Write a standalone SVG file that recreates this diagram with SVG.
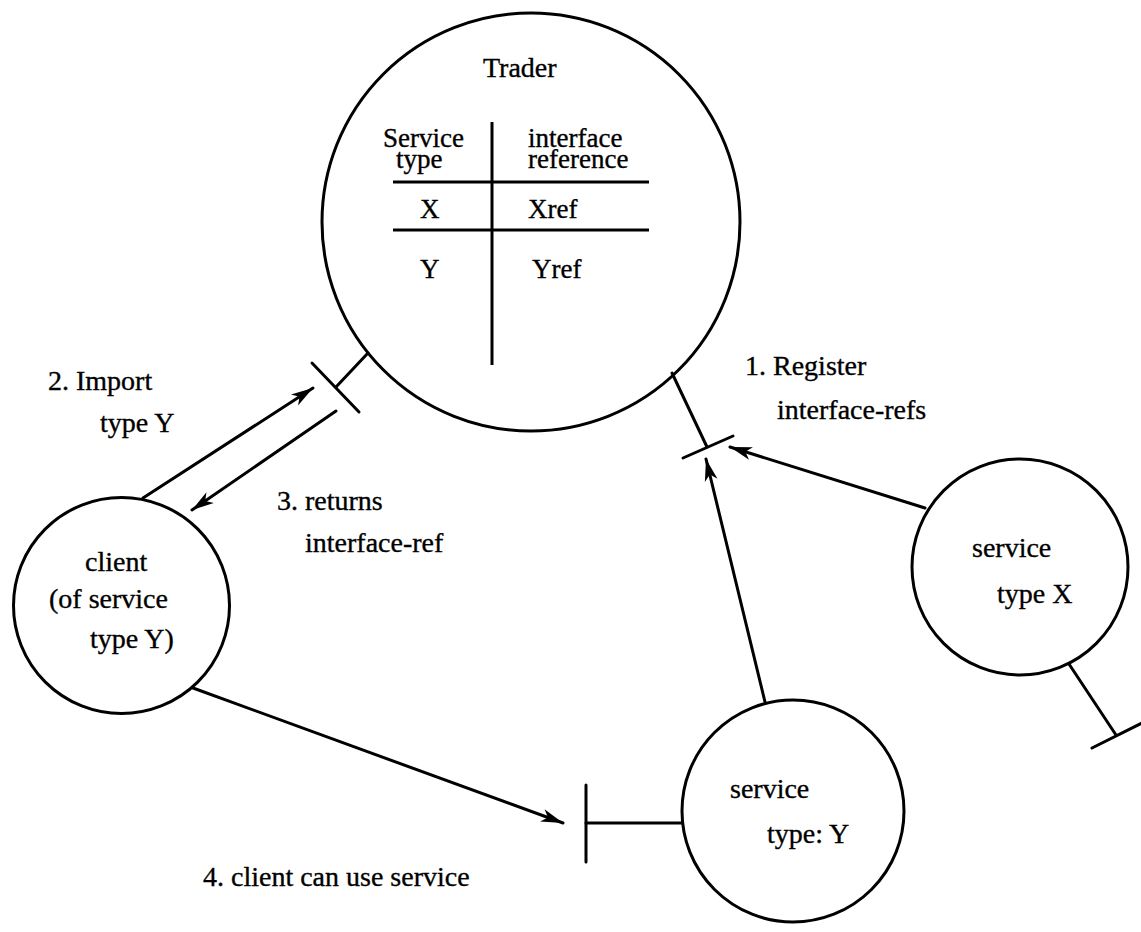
<svg xmlns="http://www.w3.org/2000/svg" width="1141" height="932" viewBox="0 0 1141 932">
  <style>
    .node { fill: none; stroke: #000; stroke-width: 3; }
    .edge { fill: none; stroke: #000; stroke-width: 3; stroke-linecap: round; }
    .rule { fill: none; stroke: #000; stroke-width: 3; }
    text { font-family: "Liberation Serif", "Times New Roman", serif; font-size: 28px; fill: #000; stroke: #000; stroke-width: 0.35; }
    .tbl { font-size: 27px; }
  </style>
  <defs>
    <marker id="arrow" markerUnits="userSpaceOnUse" markerWidth="24" markerHeight="16" refX="22" refY="8" orient="auto">
      <path d="M0,1.5 L22,8 L0,14.5 L6,8 z" fill="#000"/>
    </marker>
  </defs>
  <rect width="1141" height="932" fill="#fff"/>

  <!-- Trader with its lookup table -->
  <g id="trader">
    <circle class="node" cx="531" cy="222" r="209"/>
    <text x="483" y="77">Trader</text>
    <line class="rule" x1="492" y1="122" x2="492" y2="365"/>
    <line class="rule" x1="393" y1="182" x2="649" y2="182"/>
    <line class="rule" x1="393" y1="230" x2="649" y2="230"/>
    <text class="tbl" x="383" y="147">Service</text>
    <text class="tbl" x="396" y="168">type</text>
    <text class="tbl" x="528" y="147">interface</text>
    <text class="tbl" x="528" y="168">reference</text>
    <text class="tbl" x="420" y="218">X</text>
    <text class="tbl" x="528" y="218">Xref</text>
    <text class="tbl" x="420" y="278">Y</text>
    <text class="tbl" x="532" y="278">Yref</text>
  </g>

  <!-- client -->
  <g id="client">
    <circle class="node" cx="121.5" cy="605.5" r="108"/>
    <text x="85" y="571">client</text>
    <text x="49" y="608">(of service</text>
    <text x="90" y="648">type Y)</text>
  </g>

  <!-- service of type X -->
  <g id="service-x">
    <circle class="node" cx="1020" cy="567" r="108"/>
    <text x="972" y="557">service</text>
    <text x="997" y="603">type X</text>
  </g>

  <!-- service of type Y -->
  <g id="service-y">
    <circle class="node" cx="793" cy="811" r="111"/>
    <text x="730" y="798">service</text>
    <text x="767" y="843">type: Y</text>
  </g>

  <!-- interface stubs and message arrows -->
  <g id="connectors">
    <!-- trader import interface -->
    <line class="edge" x1="368" y1="353" x2="336" y2="387"/>
    <line class="edge" x1="312" y1="363" x2="359" y2="412"/>
    <!-- trader register interface -->
    <line class="edge" x1="672" y1="373" x2="707" y2="447"/>
    <line class="edge" x1="683" y1="458" x2="733" y2="436"/>
    <!-- service X interface -->
    <line class="edge" x1="1069" y1="664" x2="1116" y2="735"/>
    <line class="edge" x1="1092" y1="748" x2="1150" y2="719"/>
    <!-- service Y interface -->
    <line class="edge" x1="682" y1="823" x2="586" y2="823"/>
    <line class="edge" x1="586" y1="785" x2="586" y2="862"/>

    <line class="edge" x1="143" y1="498" x2="313" y2="388" marker-end="url(#arrow)"/>
    <line class="edge" x1="336" y1="411" x2="192" y2="510" marker-end="url(#arrow)"/>
    <line class="edge" x1="925" y1="508" x2="730" y2="447" marker-end="url(#arrow)"/>
    <line class="edge" x1="765" y1="702" x2="706" y2="459" marker-end="url(#arrow)"/>
    <line class="edge" x1="193" y1="688" x2="563" y2="823" marker-end="url(#arrow)"/>
  </g>

  <!-- step labels -->
  <g id="labels">
    <text x="48" y="390">2. Import</text>
    <text x="100" y="432">type Y</text>
    <text x="277" y="510">3. returns</text>
    <text x="305" y="552">interface-ref</text>
    <text x="745" y="375">1. Register</text>
    <text x="777" y="419">interface-refs</text>
    <text x="203" y="886">4. client can use service</text>
  </g>
</svg>
